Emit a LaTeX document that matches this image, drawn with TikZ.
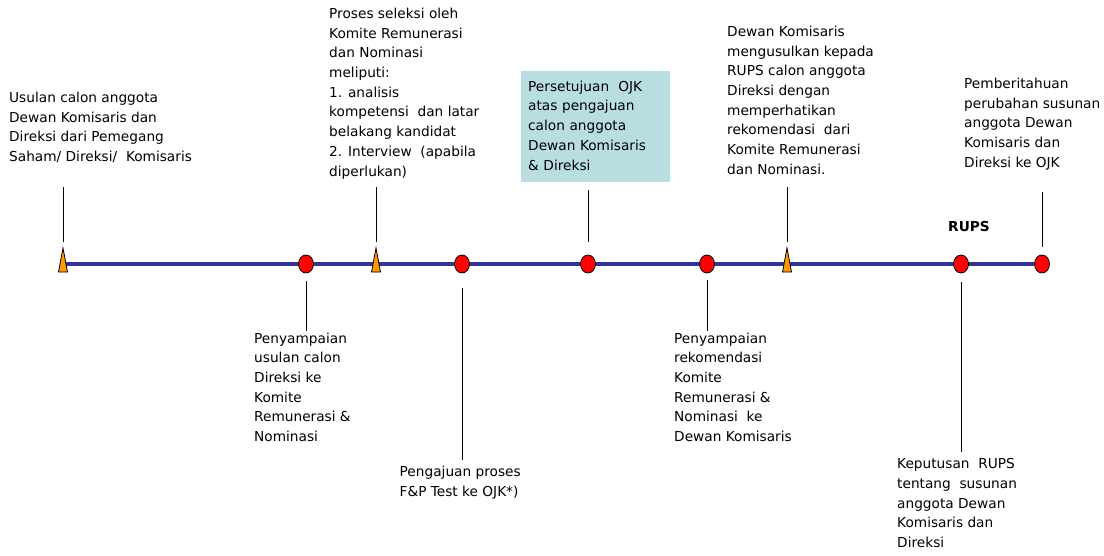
\documentclass[tikz,border=0pt]{standalone}
\usepackage{fontspec}
\setmainfont{DejaVu Sans}
\usetikzlibrary{shapes.geometric,backgrounds}
\definecolor{lineblue}{RGB}{51,51,153}
\definecolor{markorange}{RGB}{255,153,0}
\definecolor{boxteal}{RGB}{184,222,226}
\tikzset{
	lbl/.style={anchor=north west,inner sep=0pt,align=left,
		font=\fontsize{13.7}{19.7}\selectfont,
		execute at begin node=\strut,execute at end node=\strut},
	okbox/.style={lbl,fill=boxteal,inner xsep=7pt,text width=135pt,minimum height=111pt},
	dot/.style={ellipse,draw=black,fill=red,line width=0.8pt,inner sep=0pt,
		minimum width=15pt,minimum height=18pt},
	tri/.style={draw=black,fill=markorange,line width=0.8pt,line join=miter},
	timeline/.style={draw=lineblue,line width=3.5pt},
	stem/.style={draw=black,line width=0.9pt}
}
\begin{document}
\begin{tikzpicture}[x=1pt,y=-1pt]
	\useasboundingbox (0,0) rectangle (1104,555);
	% texts above the line
	\node[lbl] (t1) at (9,91.8) {Usulan calon anggota\\Dewan Komisaris dan\\Direksi dari Pemegang\\Saham/ Direksi/\ \ Komisaris};
	\node[lbl] (t2) at (329,7.8) {Proses seleksi oleh\\Komite Remunerasi\\dan Nominasi\\meliputi:\\1. analisis\\kompetensi\ \ dan latar\\belakang kandidat\\2. Interview\ \ (apabila\\diperlukan)};
	\node[okbox] (t3) at (521,71) {Persetujuan\ \ OJK\\atas pengajuan\\calon anggota\\Dewan Komisaris\\\& Direksi};
	\node[lbl] (t4) at (727,25.8) {Dewan Komisaris\\mengusulkan kepada\\RUPS calon anggota\\Direksi dengan\\memperhatikan\\rekomendasi\ \ dari\\Komite Remunerasi\\dan Nominasi.};
	\node[lbl] (t5) at (964,77.8) {Pemberitahuan\\perubahan susunan\\anggota Dewan\\Komisaris dan\\Direksi ke OJK};
	\node[font=\bfseries\fontsize{13.7}{16}\selectfont] (rups) at (969,227) {RUPS};
	% texts below the line
	\node[lbl] (b1) at (254,332.5) {Penyampaian\\usulan calon\\Direksi ke\\Komite\\Remunerasi \&\\Nominasi};
	\node[lbl] (b2) at (399.5,465.8) {Pengajuan proses\\F\&P Test ke OJK*)};
	\node[lbl] (b3) at (674,332.5) {Penyampaian\\rekomendasi\\Komite\\Remunerasi \&\\Nominasi\ \ ke\\Dewan Komisaris};
	\node[lbl] (b4) at (897,458.5) {Keputusan\ \ RUPS\\tentang\ \ susunan\\anggota Dewan\\Komisaris dan\\Direksi};
	% markers
	\foreach \n/\x in {a1/63,a2/376,a3/787}{
		\coordinate (\n) at (\x,264);
		\filldraw[tri] (\n) ++(-4.5,8) -- ++(4.5,-24) -- ++(4.5,24) -- cycle;
	}
	\foreach \n/\x in {d1/306,d2/462,d3/588,d4/707,d5/961,d6/1042}
		\node[dot] (\n) at (\x,264) {};
	\begin{scope}[on background layer]
		\draw[timeline] (a1) -- (d6);
	\end{scope}
	% stems
	\foreach \m/\t/\s/\e in {a1/t1/22/19,a2/t2/22/5,d3/t3/13/8,a3/t4/22/7,d6/t5/8/19}
		\draw[stem,shorten <=\s pt,shorten >=\e pt] (\m) -- (\m |- \t.south);
	\foreach \m/\t/\s/\e in {d1/b1/8/1.5,d2/b2/15/6,d4/b3/7/1.5,d5/b4/9/6.5}
		\draw[stem,shorten <=\s pt,shorten >=\e pt] (\m) -- (\m |- \t.north);
\end{tikzpicture}
\end{document}
